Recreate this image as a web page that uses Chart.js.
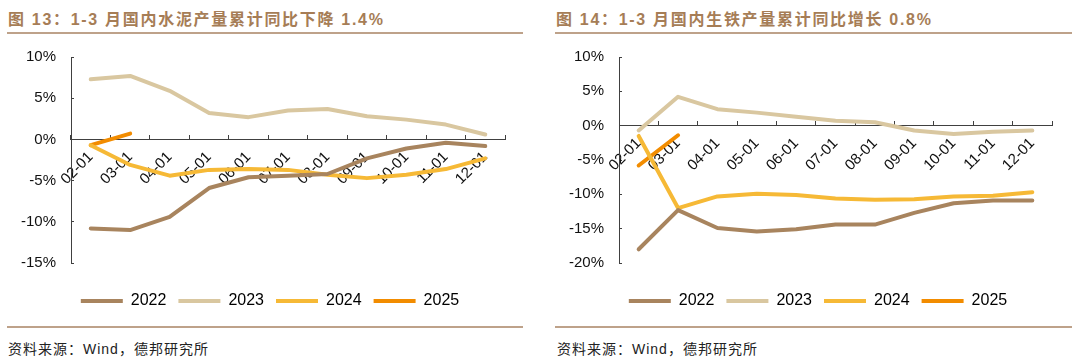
<!DOCTYPE html>
<html>
<head>
<meta charset="utf-8">
<script src="https://cdn.jsdelivr.net/npm/chart.js@4.4.1/dist/chart.umd.min.js"></script>
<style>
  body { margin: 0; background: #fff; }
  #page { position: relative; width: 1080px; height: 363px; overflow: hidden; }
  .title {
    position: absolute; top: 6px; font: bold 16px "Liberation Sans", "Noto Sans CJK SC", sans-serif;
    color: #a67d56; letter-spacing: 1.7px; white-space: nowrap;
  }
  .rule { position: absolute; height: 2px; background: #bea28a; }
  .src {
    position: absolute; top: 338px; font: 14px "Liberation Sans", "Noto Sans CJK SC", sans-serif;
    color: #222; letter-spacing: 1px; white-space: nowrap;
  }
  canvas { position: absolute; top: 30px; }
</style>
</head>
<body>
<div id="page">
  <div class="title" style="left:8px">图 13：1-3 月国内水泥产量累计同比下降 1.4%</div>
  <div class="title" style="left:556px">图 14：1-3 月国内生铁产量累计同比增长 0.8%</div>
  <div class="rule" style="left:7px; width:516px; top:32px"></div>
  <div class="rule" style="left:555px; width:517px; top:32px"></div>
  <canvas id="cement" width="540" height="290" style="left:0"></canvas>
  <canvas id="iron" width="524" height="290" style="left:556px"></canvas>
  <div class="rule" style="left:7px; width:516px; top:326px"></div>
  <div class="rule" style="left:555px; width:517px; top:326px"></div>
  <div class="src" style="left:8px">资料来源：Wind，德邦研究所</div>
  <div class="src" style="left:557px">资料来源：Wind，德邦研究所</div>
</div>
<script>
const months = ["02-01", "03-01", "04-01", "05-01", "06-01", "07-01", "08-01", "09-01", "10-01", "11-01", "12-01"];
const years = ["2022", "2023", "2024", "2025"];
const colors = ["#a8845e", "#d9c7a0", "#f6b936", "#f28c00"];

// 水泥产量累计同比 (%)
const cement2022 = [-10.8, -11.0, -9.4, -5.9, -4.6, -4.4, -4.2, -2.3, -1.1, -0.4, -0.8];
const cement2023 = [7.3, 7.7, 5.9, 3.2, 2.7, 3.5, 3.7, 2.8, 2.4, 1.8, 0.6];
const cement2024 = [-0.7, -3.1, -4.4, -3.7, -3.6, -3.7, -4.3, -4.7, -4.3, -3.6, -2.3];
const cement2025 = [-0.7, 0.7, null, null, null, null, null, null, null, null, null];

// 生铁产量累计同比 (%)
const iron2022 = [-18.0, -12.3, -14.9, -15.4, -15.1, -14.4, -14.4, -12.7, -11.3, -10.9, -10.9];
const iron2023 = [-0.7, 4.2, 2.4, 1.9, 1.3, 0.7, 0.5, -0.7, -1.2, -0.9, -0.7];
const iron2024 = [-1.5, -12.0, -10.3, -9.9, -10.1, -10.6, -10.8, -10.7, -10.3, -10.2, -9.7];
const iron2025 = [-5.8, -1.4, null, null, null, null, null, null, null, null, null];

Chart.defaults.font.family = "'Liberation Sans', Arial, sans-serif";
Chart.defaults.font.size = 15;
Chart.defaults.color = "#111";

const axisColor = "#404040";

function makeChart(id, series, yMin, yMax, leftW, rightW) {
  new Chart(document.getElementById(id), {
    type: "line",
    data: {
      labels: months,
      datasets: series.map((s, i) => ({
        label: years[i],
        data: s,
        borderColor: colors[i],
        backgroundColor: colors[i],
        borderWidth: 4,
        pointRadius: 0,
        tension: 0,
        borderCapStyle: "round",
        borderJoinStyle: "round",
        spanGaps: false
      }))
    },
    options: {
      responsive: false,
      animation: false,
      layout: { padding: { top: 0, bottom: 1, left: 0, right: 0 } },
      plugins: {
        tooltip: { enabled: false },
        legend: {
          position: "bottom",
          labels: {
            boxWidth: 42,
            boxHeight: 4,
            padding: 12,
            color: "#222",
            font: { size: 16 },
            generateLabels: chart => chart.data.datasets.map((ds, i) => ({
              text: ds.label,
              fillStyle: ds.borderColor,
              strokeStyle: ds.borderColor,
              lineWidth: 0,
              datasetIndex: i,
              hidden: false
            }))
          }
        }
      },
      scales: {
        x: {
          type: "category",
          offset: true,
          position: { y: 0 },
          grid: { display: true, drawOnChartArea: false, offset: true, tickLength: -5, color: axisColor },
          border: { display: true, color: axisColor },
          ticks: { autoSkip: false, minRotation: 45, maxRotation: 45, padding: 14, color: "#111", font: { size: 15 } }
        },
        y: {
          min: yMin,
          max: yMax,
          grid: { display: true, drawOnChartArea: false, tickLength: -3, color: axisColor },
          border: { display: true, color: axisColor },
          ticks: { stepSize: 5, padding: 18, color: "#111", font: { size: 15 }, callback: v => v + "%" },
          afterFit: s => { s.width = leftW; }
        },
        // empty spacers so the legend centres on the whole panel
        spaceR: {
          type: "linear", position: "right",
          grid: { display: false }, border: { display: false }, ticks: { display: false },
          afterFit: s => { s.width = rightW; }
        },
        spaceB: {
          type: "linear", position: "bottom",
          grid: { display: false }, border: { display: false }, ticks: { display: false },
          afterFit: s => { s.height = 18; }
        }
      }
    }
  });
}

makeChart("cement", [cement2022, cement2023, cement2024, cement2025], -15, 10, 71, 35);
makeChart("iron", [iron2022, iron2023, iron2024, iron2025], -20, 10, 63, 28);
</script>
</body>
</html>
